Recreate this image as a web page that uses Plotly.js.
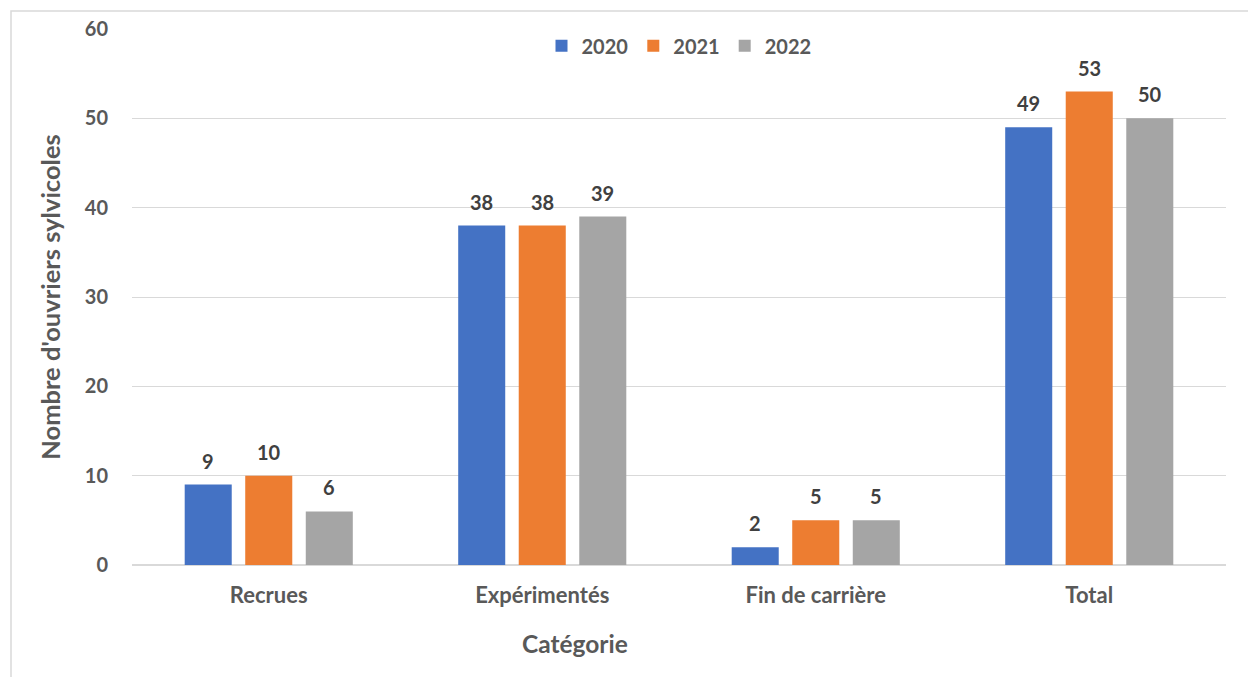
<!DOCTYPE html>
<html>
<head>
<meta charset="utf-8">
<script src="https://cdn.plot.ly/plotly-3.0.1.min.js"></script>
<style>
  html, body { margin: 0; padding: 0; background: #ffffff; }
  #chart { width: 1248px; height: 677px; }
</style>
</head>
<body>
<div id="chart"></div>
<script>
// Chart data
var categories = ['Recrues', 'Expérimentés', 'Fin de carrière', 'Total'];
var seriesNames = ['2020', '2021', '2022'];
var values2020 = [9, 38, 2, 49];
var values2021 = [10, 38, 5, 53];
var values2022 = [6, 39, 5, 50];
var seriesColors = ['#4472C4', '#ED7D31', '#A5A5A5'];
var yTicks = [0, 10, 20, 30, 40, 50, 60];

(function () {
    'use strict';

    var textColor = '#595959';
    var fontFamily = 'Lato, "Open Sans", Arial, sans-serif';
    var bargap = 0.336;
    var allValues = [values2020, values2021, values2022];

    var traces = allValues.map(function (vals, i) {
        return {
            x: categories,
            y: vals,
            name: seriesNames[i],
            type: 'bar',
            marker: { color: seriesColors[i] },
            hoverinfo: 'x+y+name'
        };
    });

    // Data labels above each bar, offset to sit over its slot in the group
    var slot = (1 - bargap) / allValues.length;
    var annotations = [];
    allValues.forEach(function (vals, i) {
        var offset = (i - (allValues.length - 1) / 2) * slot;
        vals.forEach(function (v, j) {
            annotations.push({
                x: j + offset,
                y: v,
                xref: 'x',
                yref: 'y',
                text: String(v),
                showarrow: false,
                yanchor: 'bottom',
                yshift: 10,
                font: { family: fontFamily, size: 20, color: '#404040', weight: 'bold' }
            });
        });
    });

    // X axis title, placed like the original
    annotations.push({
        x: (575 - 132) / 1094,
        y: -(643 - 565) / 536,
        xref: 'paper',
        yref: 'paper',
        text: 'Catégorie',
        showarrow: false,
        xanchor: 'center',
        yanchor: 'middle',
        font: { family: fontFamily, size: 24.5, color: textColor, weight: 'bold' }
    });

    var layout = {
        width: 1248,
        height: 677,
        margin: { t: 29, r: 22, b: 112, l: 132 },
        barmode: 'group',
        bargap: bargap,
        bargroupgap: 0.223,
        paper_bgcolor: '#ffffff',
        plot_bgcolor: '#ffffff',
        font: { family: fontFamily, size: 20, color: textColor },
        showlegend: true,
        legend: {
            orientation: 'h',
            x: 0.5,
            xanchor: 'center',
            y: 1.005,
            yanchor: 'top',
            font: { family: fontFamily, size: 20, color: textColor, weight: 'bold' },
            itemwidth: 30,
            bgcolor: 'rgba(0,0,0,0)'
        },
        xaxis: {
            type: 'category',
            tickfont: { family: fontFamily, size: 22, color: textColor, weight: 'bold' },
            showgrid: false,
            showline: false,
            ticks: '',
            ticklabelstandoff: 15,
            fixedrange: true
        },
        yaxis: {
            range: [0, 60],
            tickvals: yTicks,
            ticktext: yTicks.map(String),
            showgrid: true,
            gridcolor: '#d9d9d9',
            gridwidth: 1,
            zeroline: true,
            zerolinecolor: '#d9d9d9',
            zerolinewidth: 2,
            showline: false,
            ticks: '',
            ticklabelstandoff: 23,
            tickfont: { family: fontFamily, size: 20, color: textColor, weight: 'bold' },
            title: {
                text: "Nombre d'ouvriers sylvicoles",
                standoff: 16,
                font: { family: fontFamily, size: 25.5, color: textColor, weight: 'bold' }
            },
            fixedrange: true
        },
        annotations: annotations,
        shapes: [{
            type: 'rect',
            xref: 'paper',
            yref: 'paper',
            x0: -(132 - 11) / 1094,
            x1: 1.2,
            y0: -0.3,
            y1: (565 - 11) / 536,
            line: { color: '#d9d9d9', width: 1.5 },
            fillcolor: 'rgba(0,0,0,0)',
            layer: 'below'
        }]
    };

    Plotly.newPlot('chart', traces, layout, { displayModeBar: false, responsive: false });
})();
</script>
</body>
</html>
